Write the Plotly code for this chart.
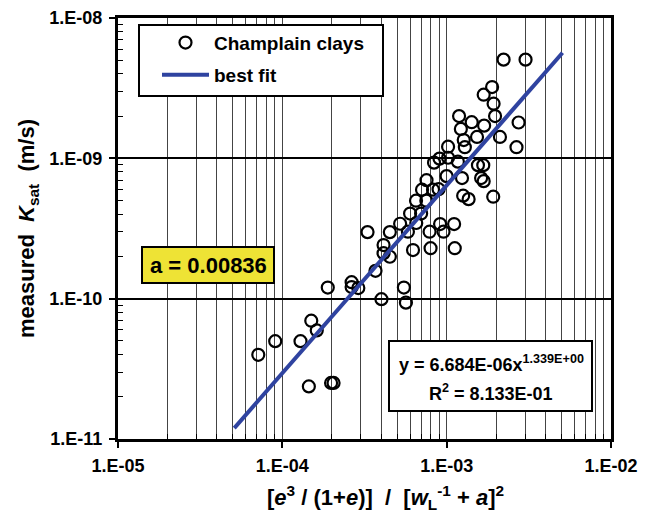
import plotly.graph_objects as go

# ---------------- data ----------------
x_vals = [2.22e-3, 3.02e-3, 1.89e-3, 1.68e-3, 1.93e-3, 1.97e-3, 2.74e-3, 1.19e-3, 1.42e-3, 1.69e-3,
          1.22e-3, 1.53e-3, 2.11e-3, 2.66e-3, 1.27e-3, 1.29e-3, 1.02e-3, 1.02e-3, 9.05e-4, 8.38e-4,
          1.17e-3, 1.55e-3, 1.67e-3, 9.99e-4, 1.24e-3, 7.54e-4, 1.62e-3, 1.68e-3, 7.08e-4, 8.26e-4,
          8.93e-4, 6.51e-4, 7.52e-4, 1.26e-3, 1.36e-3, 1.92e-3, 5.99e-4, 6.99e-4, 5.21e-4, 6.53e-4,
          9.12e-4, 1.11e-3, 5.81e-4, 7.87e-4, 9.57e-4, 3.30e-4, 4.51e-4, 4.13e-4, 4.13e-4, 4.51e-4,
          6.24e-4, 7.98e-4, 1.12e-3, 3.69e-4, 2.64e-4, 2.64e-4, 2.90e-4, 1.89e-4, 4.01e-4, 5.49e-4,
          5.65e-4, 1.50e-4, 1.62e-4, 1.29e-4, 9.05e-5, 7.14e-5, 1.45e-4, 1.98e-4, 2.05e-4]
y_vals = [5.05e-9, 5.05e-9, 3.22e-9, 2.84e-9, 2.45e-9, 2.00e-9, 1.80e-9, 2.00e-9, 1.81e-9, 1.71e-9,
          1.62e-9, 1.42e-9, 1.42e-9, 1.20e-9, 1.35e-9, 1.20e-9, 1.21e-9, 1.01e-9, 9.95e-10, 9.32e-10,
          9.47e-10, 8.94e-10, 8.94e-10, 7.47e-10, 7.23e-10, 6.99e-10, 7.23e-10, 6.88e-10, 5.98e-10, 5.98e-10,
          6.03e-10, 4.99e-10, 4.99e-10, 5.42e-10, 5.12e-10, 5.33e-10, 4.04e-10, 4.04e-10, 3.42e-10, 3.46e-10,
          3.40e-10, 3.40e-10, 3.00e-10, 3.00e-10, 3.00e-10, 2.98e-10, 2.98e-10, 2.41e-10, 2.11e-10, 1.99e-10,
          2.22e-10, 2.29e-10, 2.29e-10, 1.58e-10, 1.31e-10, 1.21e-10, 1.19e-10, 1.20e-10, 9.92e-11, 1.20e-10,
          9.37e-11, 6.97e-11, 5.94e-11, 4.98e-11, 4.98e-11, 3.98e-11, 2.37e-11, 2.51e-11, 2.51e-11]

fit_coef = 6.684e-06
fit_exp = 1.339
fit_x = [5.1e-05, 5.07e-03]
fit_y = [fit_coef * v ** fit_exp for v in fit_x]

x_ticks = [1e-5, 1e-4, 1e-3, 1e-2]
x_ticktext = ["1.E-05", "1.E-04", "1.E-03", "1.E-02"]
y_ticks = [1e-11, 1e-10, 1e-9, 1e-8]
y_ticktext = ["1.E-11", "1.E-10", "1.E-09", "1.E-08"]

# ---------------- layout helpers ----------------
W, H = 653, 516
ML, MR, MT, MB = 118, 42, 18, 77
PW, PH = W - ML - MR, H - MT - MB


def px(x):
    return (x - ML) / PW


def py(y):
    return (H - MB - y) / PH


FONT = "Liberation Sans, Arial, sans-serif"


def f(size, color="black"):
    return dict(family=FONT, size=size, color=color, weight="bold")


NB = "\u00a0"
x_minor = [m * 10 ** e for e in range(-5, -2) for m in range(2, 10)]
y_minor = [m * 10 ** e for e in range(-11, -8) for m in range(2, 10)]

fig = go.Figure()

fig.add_trace(go.Scatter(
    x=x_vals, y=y_vals, mode="markers", name="Champlain clays",
    marker=dict(symbol="circle-open", size=12, color="black", line=dict(width=2.2, color="black")),
    legend="legend", cliponaxis=False,
))
fig.add_trace(go.Scatter(
    x=fit_x, y=fit_y, mode="lines", name="best fit",
    line=dict(color="#2f43a0", width=4), legend="legend2",
))

axis_common = dict(
    type="log", showline=True, linewidth=3, linecolor="black", mirror=True,
    ticks="outside", ticklen=6, tickwidth=1.5, tickcolor="black",
    tickmode="array", tickfont=f(18), showgrid=True, zeroline=False,
)

GRID = "#444444"
fig.update_layout(
    width=W, height=H,
    margin=dict(l=ML, r=MR, t=MT, b=MB, autoexpand=False),
    paper_bgcolor="white", plot_bgcolor="white",
    font=f(17),
    xaxis=dict(
        axis_common, range=[-5, -2], tickvals=x_ticks, ticktext=x_ticktext,
        gridcolor=GRID, gridwidth=1, ticklabelstandoff=2,
        minor=dict(tickvals=x_minor, ticks="inside", ticklen=5, tickwidth=1, tickcolor="black",
                   showgrid=True, gridcolor=GRID, gridwidth=1),
    ),
    yaxis=dict(
        axis_common, range=[-11, -8], tickvals=y_ticks, ticktext=y_ticktext,
        gridcolor="black", gridwidth=1.5, ticklabelstandoff=3,
        minor=dict(tickvals=y_minor, ticks="inside", ticklen=5, tickwidth=1, tickcolor="black",
                   showgrid=False),
        title=dict(text=f"measured{NB}{NB}<i>K</i><sub>sat</sub>{NB}{NB}(m/s)", font=f(22), standoff=9),
    ),
    legend=dict(x=px(157), y=py(42.7), xanchor="left", yanchor="middle",
                bgcolor="rgba(0,0,0,0)", borderwidth=0, font=f(19), itemwidth=47),
    legend2=dict(x=px(157), y=py(75), xanchor="left", yanchor="middle",
                 bgcolor="rgba(0,0,0,0)", borderwidth=0, font=f(19), itemwidth=47),
    showlegend=True,
)

# x-axis title
fig.add_annotation(
    xref="paper", yref="paper", x=px(385), y=py(497), xanchor="center", yanchor="middle",
    showarrow=False, font=f(22),
    text=(f"[<i>e</i><sup>3</sup>{NB}/{NB}(1+<i>e</i>)]{NB}{NB}/{NB}{NB}"
          f"[<i>w</i><sub>L</sub><sup>-1</sup>{NB}+{NB}<i>a</i>]<sup>2</sup>"),
)

# boxes (legend frame, parameter box, equation box)
boxes = [
    (139, 25, 383, 96, "white"),
    (142, 247, 274, 283, "#eee335"),
    (389, 341, 592, 411, "white"),
]
for x0, y0, x1, y1, fc in boxes:
    fig.add_shape(type="rect", xref="paper", yref="paper",
                  x0=px(x0), x1=px(x1), y0=py(y1), y1=py(y0),
                  fillcolor=fc, line=dict(color="black", width=2), layer="above")

fig.add_annotation(xref="paper", yref="paper", x=px(208), y=py(265), text="a = 0.00836",
                   showarrow=False, font=f(22), xanchor="center", yanchor="middle")
fig.add_annotation(xref="paper", yref="paper", x=px(491), y=py(363),
                   text="y = 6.684E-06x<sup>1.339E+00</sup>",
                   showarrow=False, font=f(18), xanchor="center", yanchor="middle")
fig.add_annotation(xref="paper", yref="paper", x=px(491), y=py(392),
                   text="R<sup>2</sup> = 8.133E-01",
                   showarrow=False, font=f(18), xanchor="center", yanchor="middle")

fig.write_html("out.html")
